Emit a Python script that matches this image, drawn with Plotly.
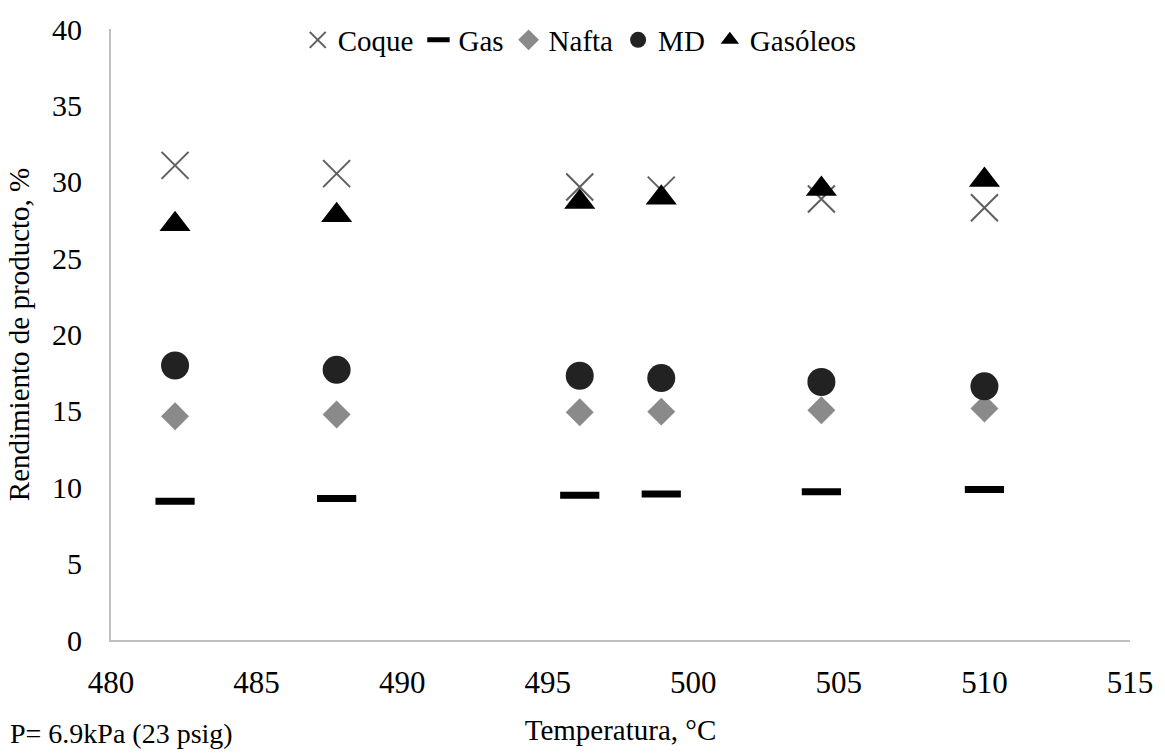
import plotly.graph_objects as go

temperatura = [482.2, 487.75, 496.1, 498.9, 504.4, 510.0]
coque = [31.07, 30.53, 29.66, 29.45, 28.87, 28.30]
gas = [9.08, 9.26, 9.47, 9.56, 9.71, 9.86]
nafta = [14.65, 14.76, 14.91, 14.95, 15.04, 15.15]
md = [17.97, 17.69, 17.30, 17.15, 16.89, 16.61]
gasoleos = [27.22, 27.80, 28.67, 28.96, 29.53, 30.12]

series_names = ["Coque", "Gas", "Nafta", "MD", "Gasóleos"]

FONT = "Liberation Serif"

fig = go.Figure()
fig.add_trace(go.Scatter(x=temperatura, y=coque, name=series_names[0], mode="markers",
                         marker=dict(symbol="x-thin", size=27, color="#5f5f5f",
                                     line=dict(width=2, color="#5f5f5f"))))
fig.add_trace(go.Scatter(x=temperatura, y=gas, name=series_names[1], mode="markers",
                         marker=dict(symbol="line-ew", size=28, color="black",
                                     line=dict(width=7, color="black"))))
fig.add_trace(go.Scatter(x=temperatura, y=nafta, name=series_names[2], mode="markers",
                         marker=dict(symbol="diamond", size=21.5, color="#8a8a8a",
                                     line=dict(width=0))))
fig.add_trace(go.Scatter(x=temperatura, y=md, name=series_names[3], mode="markers",
                         marker=dict(symbol="circle", size=28, color="#222222",
                                     line=dict(width=0))))
fig.add_trace(go.Scatter(x=temperatura, y=gasoleos, name=series_names[4], mode="markers",
                         marker=dict(symbol="triangle-up", size=27, color="black",
                                     line=dict(width=0))))

fig.update_layout(
    width=1165, height=753,
    margin=dict(l=111, r=30, t=27, b=108),
    paper_bgcolor="white", plot_bgcolor="white",
    font=dict(family=FONT, size=29, color="black"),
    showlegend=True,
    legend=dict(orientation="h", x=0.46, y=0.982, xanchor="center", yanchor="middle",
                font=dict(family=FONT, size=29, color="black"),
                bgcolor="rgba(0,0,0,0)",
                itemwidth=30, tracegroupgap=0),
    xaxis=dict(range=[480, 515], dtick=5, tick0=480,
               showgrid=False, zeroline=False,
               showline=True, linecolor="#bfbfbf", linewidth=2,
               ticks="", ticklabelstandoff=14,
               tickfont=dict(family=FONT, size=31, color="black"),
               title=dict(text="Temperatura, °C", font=dict(family=FONT, size=29, color="black"), standoff=20)),
    yaxis=dict(range=[0, 40], dtick=5, tick0=0,
               showgrid=False, zeroline=False,
               showline=True, linecolor="#bfbfbf", linewidth=2,
               ticks="", ticklabelstandoff=21,
               tickfont=dict(family=FONT, size=30, color="black"),
               title=dict(text="Rendimiento de producto, %", font=dict(family=FONT, size=29, color="black"), standoff=14)),
    annotations=[dict(text="P= 6.9kPa (23 psig)", xref="paper", yref="paper",
                      x=-0.1006, y=-0.1537, xanchor="left", yanchor="middle",
                      showarrow=False, font=dict(family=FONT, size=28, color="black"))],
)

fig.write_html("out.html")
